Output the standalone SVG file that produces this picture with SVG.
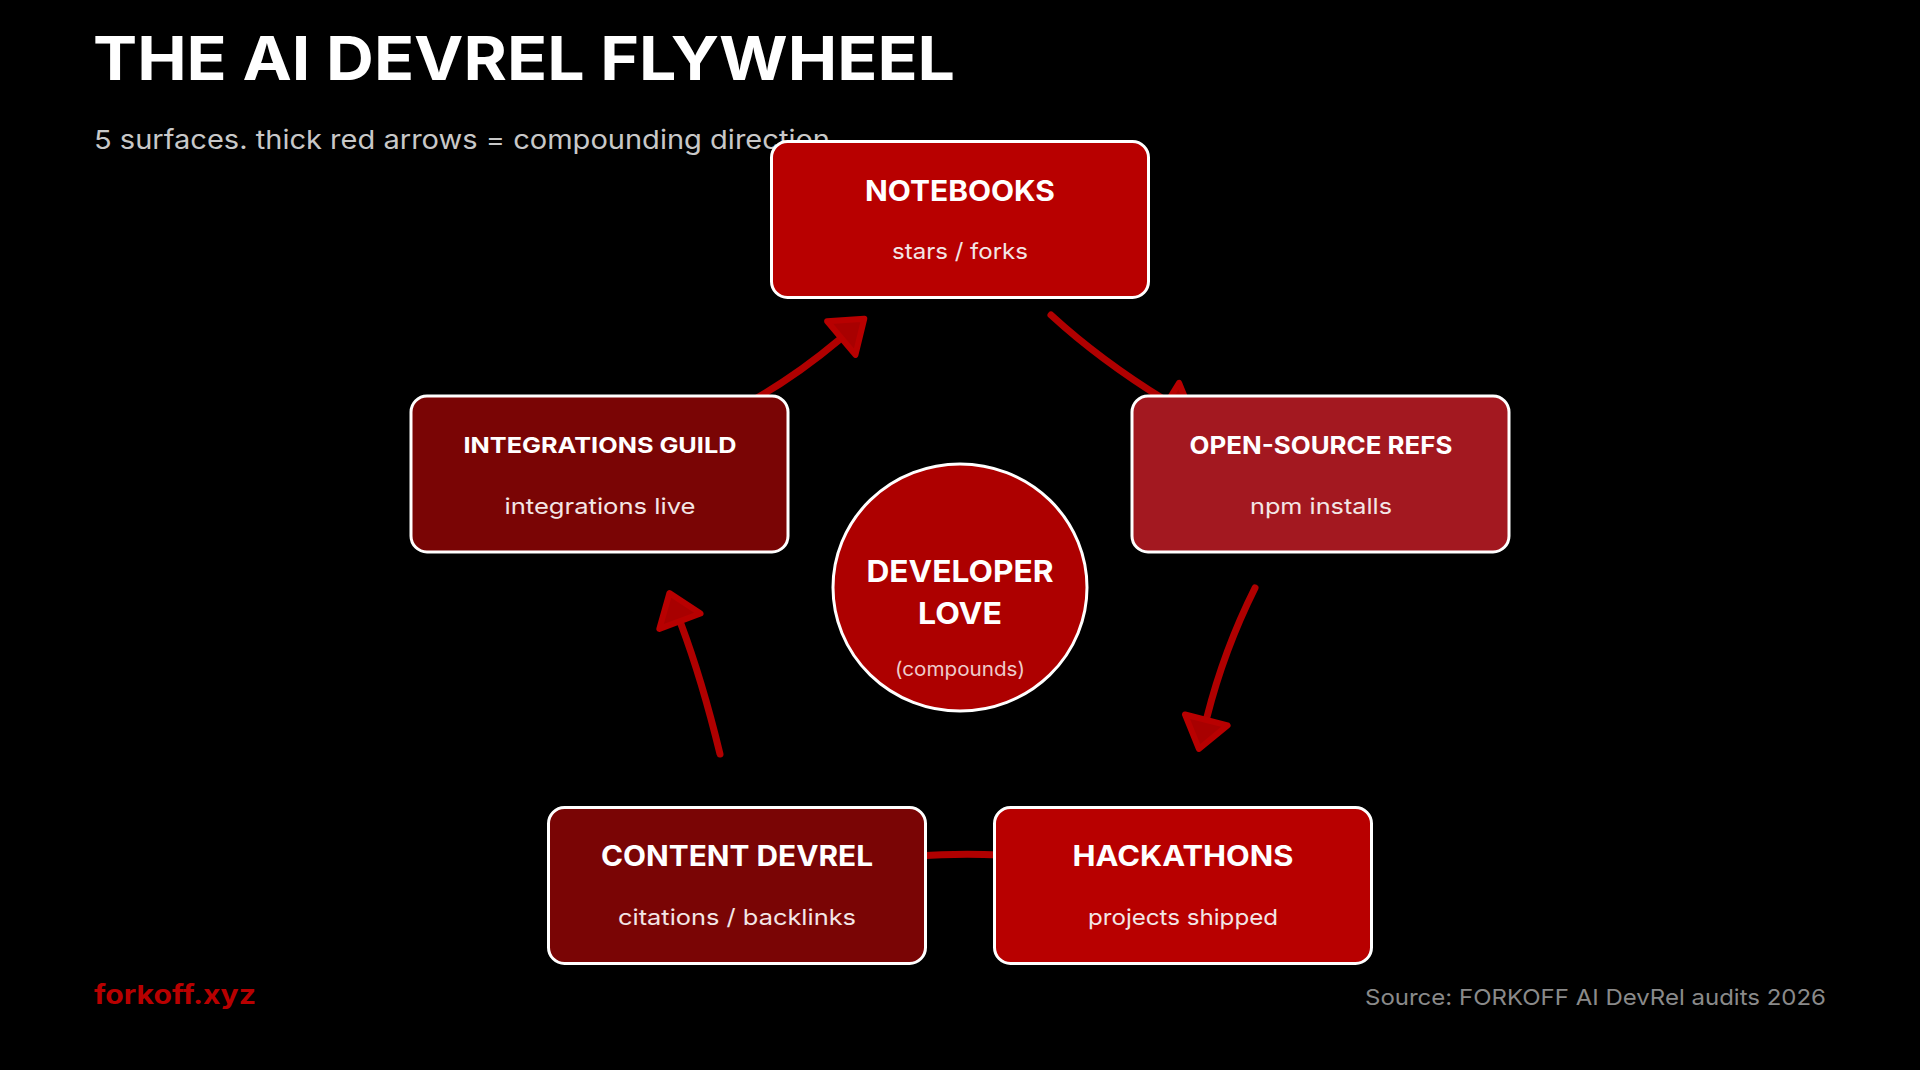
<svg xmlns="http://www.w3.org/2000/svg" width="1920" height="1070" viewBox="0 0 1920 1070">
<style>
text{font-family:"Inter","Liberation Sans",sans-serif;text-anchor:middle;fill:#fff}
.t{font-weight:700}
.s{font-weight:400;fill:#f3e6e6}
.box{stroke:#fff;stroke-width:3}
.c{fill:none;stroke:#b00000;stroke-width:7;stroke-linecap:round;marker-end:url(#head)}
</style>
<defs>
<marker id="head" markerUnits="userSpaceOnUse" markerWidth="50" markerHeight="60" refX="0" refY="0" orient="auto" viewBox="-5 -30 50 60">
<polygon points="3,-22 3,22 33,0" fill="#a80000" stroke="#b80000" stroke-width="6" stroke-linejoin="round"/>
</marker>
</defs>
<rect width="1920" height="1070" fill="#000"/>
<g id="header">
<text x="93" y="80" font-size="61" class="t" style="text-anchor:start" textLength="862" lengthAdjust="spacingAndGlyphs">THE AI DEVREL FLYWHEEL</text>
<text x="94" y="149" font-size="26" style="text-anchor:start;fill:#c8c8c8" textLength="736" lengthAdjust="spacingAndGlyphs">5 surfaces. thick red arrows = compounding direction</text>
</g>
<g id="connectors">
<path class="c" d="M1051 315Q1100 360 1165 400"/>
<path class="c" d="M1255 588Q1224 650 1207 717"/>
<path class="c" d="M1000 855Q960 853 915 856"/>
<path class="c" d="M720 754Q702 680 681 624"/>
<path class="c" d="M748 403Q795 377 839 340"/>
</g>
<g id="notebooks">
<rect class="box" x="771.5" y="141.5" width="377" height="156" rx="16" fill="#b80000"/>
<text x="960" y="201" font-size="28" class="t" textLength="190" lengthAdjust="spacingAndGlyphs">NOTEBOOKS</text>
<text x="960" y="259" font-size="22" class="s" textLength="136" lengthAdjust="spacingAndGlyphs">stars / forks</text>
</g>
<g id="open-source">
<rect class="box" x="1132" y="396" width="377" height="156" rx="16" fill="#a31820"/>
<text x="1321" y="454" font-size="24" class="t" textLength="263" lengthAdjust="spacingAndGlyphs">OPEN-SOURCE REFS</text>
<text x="1321" y="514" font-size="22" class="s" textLength="142" lengthAdjust="spacingAndGlyphs">npm installs</text>
</g>
<g id="hackathons">
<rect class="box" x="994.5" y="807.5" width="377" height="156" rx="16" fill="#b80000"/>
<text x="1183" y="866" font-size="28" class="t" textLength="221" lengthAdjust="spacingAndGlyphs">HACKATHONS</text>
<text x="1183" y="925" font-size="22" class="s" textLength="190" lengthAdjust="spacingAndGlyphs">projects shipped</text>
</g>
<g id="content-devrel">
<rect class="box" x="548.5" y="807.5" width="377" height="156" rx="16" fill="#7a0505"/>
<text x="737" y="866" font-size="28" class="t" textLength="272" lengthAdjust="spacingAndGlyphs">CONTENT DEVREL</text>
<text x="737" y="925" font-size="22" class="s" textLength="238" lengthAdjust="spacingAndGlyphs">citations / backlinks</text>
</g>
<g id="integrations-guild">
<rect class="box" x="411" y="396" width="377" height="156" rx="16" fill="#7a0505"/>
<text x="600" y="453" font-size="22" class="t" textLength="273" lengthAdjust="spacingAndGlyphs">INTEGRATIONS GUILD</text>
<text x="600" y="514" font-size="22" class="s" textLength="191" lengthAdjust="spacingAndGlyphs">integrations live</text>
</g>
<g id="developer-love">
<ellipse class="box" cx="960" cy="587.5" rx="127" ry="123.5" fill="#ad0000"/>
<text x="960" y="582" font-size="30" class="t" textLength="187" lengthAdjust="spacingAndGlyphs">DEVELOPER</text>
<text x="960" y="624" font-size="30" class="t" textLength="84" lengthAdjust="spacingAndGlyphs">LOVE</text>
<text x="960" y="676" font-size="20" class="s" style="fill:#eecccc" textLength="130" lengthAdjust="spacingAndGlyphs">(compounds)</text>
</g>
<g id="footer">
<text x="94" y="1004" font-size="26" class="t" style="text-anchor:start;fill:#b80000" textLength="162" lengthAdjust="spacingAndGlyphs">forkoff.xyz</text>
<text x="1826" y="1005" font-size="22" style="text-anchor:end;fill:#8a8a8a" textLength="461" lengthAdjust="spacingAndGlyphs">Source: FORKOFF AI DevRel audits 2026</text>
</g>
</svg>
